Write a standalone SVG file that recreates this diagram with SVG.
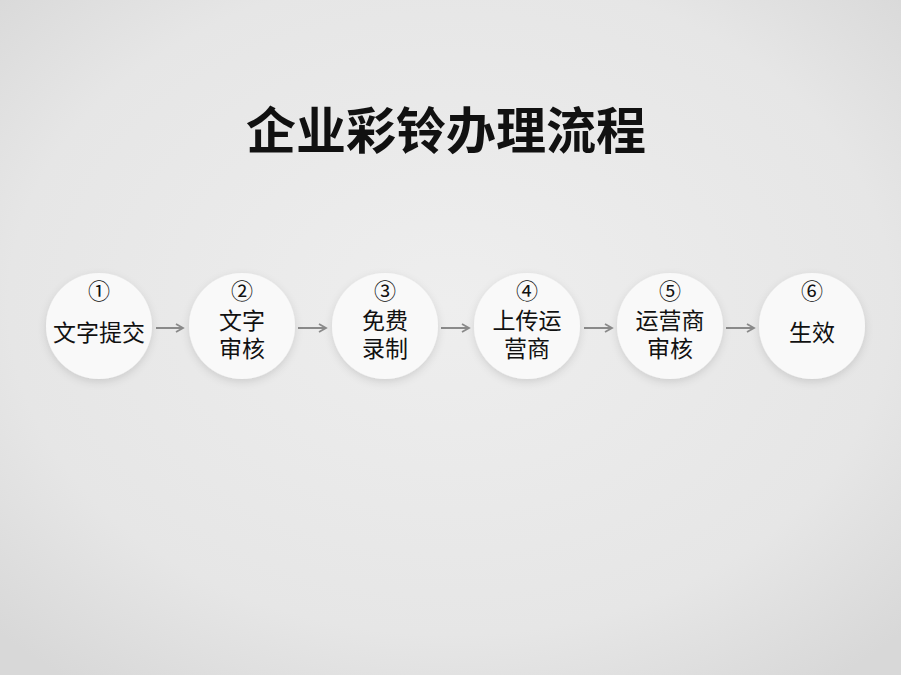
<svg xmlns="http://www.w3.org/2000/svg" width="901" height="675" viewBox="0 0 901 675">
<defs>
<radialGradient id="bg" cx="50%" cy="45%" r="70%">
<stop offset="0" stop-color="#eeeeee"/>
<stop offset="0.7" stop-color="#e6e6e6"/>
<stop offset="1" stop-color="#d8d8d8"/>
</radialGradient>
<filter id="sh" x="-30%" y="-30%" width="160%" height="160%">
<feDropShadow dx="0" dy="3" stdDeviation="4" flood-color="#000" flood-opacity="0.12"/>
</filter>
<marker id="ah" markerWidth="10" markerHeight="10" refX="8" refY="5" orient="auto" markerUnits="userSpaceOnUse">
<path d="M1,1 L8,5 L1,9" fill="none" stroke="#8a8a8a" stroke-width="1.8"/>
</marker>
<style>
.c{fill:#f9f9f9;filter:url(#sh)}
.t{font-family:"Noto Sans CJK SC","Noto Sans",sans-serif;font-size:23px;fill:#111;text-anchor:middle}
.n{font-family:"Noto Sans CJK SC","DejaVu Sans",sans-serif;font-size:22px;fill:#111;text-anchor:middle}
.a{stroke:#8a8a8a;stroke-width:2;fill:none;marker-end:url(#ah)}
</style>
</defs>
<rect width="901" height="675" fill="url(#bg)"/>
<text x="446" y="149" font-family="Noto Sans CJK SC,sans-serif" font-weight="bold" font-size="50" fill="#111" text-anchor="middle">企业彩铃办理流程</text>
<g id="connectors">
<line class="a" x1="156" y1="328" x2="183" y2="328"/>
<line class="a" x1="298" y1="328" x2="326" y2="328"/>
<line class="a" x1="441" y1="328" x2="469" y2="328"/>
<line class="a" x1="584" y1="328" x2="612" y2="328"/>
<line class="a" x1="726" y1="328" x2="754" y2="328"/>
</g>
<g id="n1"><circle class="c" cx="99" cy="326" r="53"/><text class="n" x="99" y="299">①</text><text class="t" x="99" y="341">文字提交</text></g>
<g id="n2"><circle class="c" cx="242" cy="326" r="53"/><text class="n" x="242" y="299">②</text><text class="t" x="242" y="329">文字<tspan x="242" dy="28">审核</tspan></text></g>
<g id="n3"><circle class="c" cx="385" cy="326" r="53"/><text class="n" x="385" y="299">③</text><text class="t" x="385" y="329">免费<tspan x="385" dy="28">录制</tspan></text></g>
<g id="n4"><circle class="c" cx="527" cy="326" r="53"/><text class="n" x="527" y="299">④</text><text class="t" x="527" y="329">上传运<tspan x="527" dy="28">营商</tspan></text></g>
<g id="n5"><circle class="c" cx="670" cy="326" r="53"/><text class="n" x="670" y="299">⑤</text><text class="t" x="670" y="329">运营商<tspan x="670" dy="28">审核</tspan></text></g>
<g id="n6"><circle class="c" cx="812" cy="326" r="53"/><text class="n" x="812" y="299">⑥</text><text class="t" x="812" y="341">生效</text></g>
</svg>
